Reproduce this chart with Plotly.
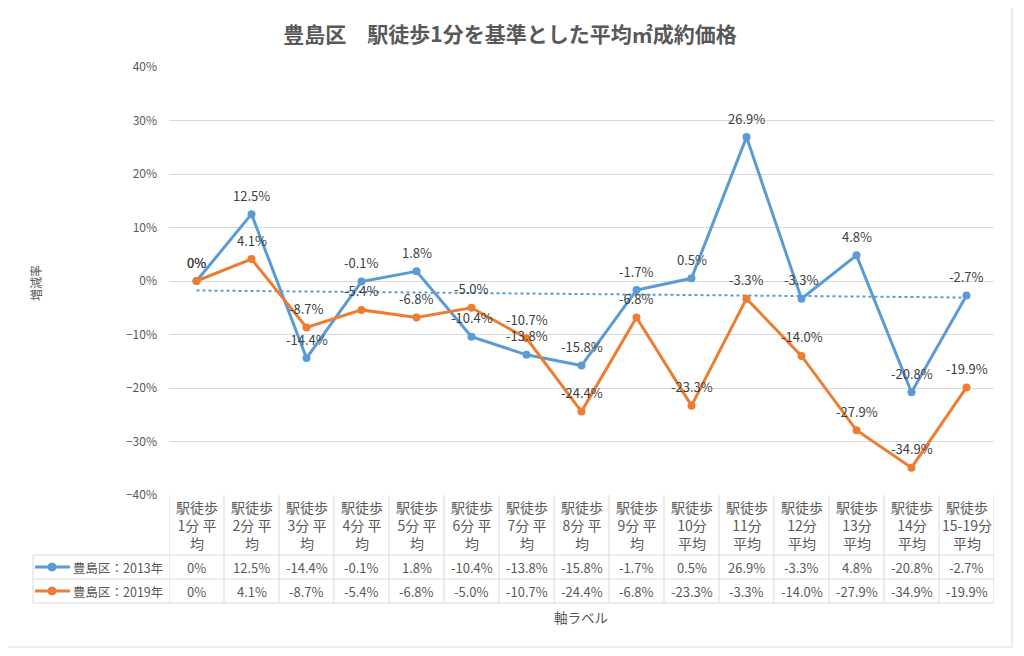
import numpy as np
import plotly.graph_objects as go

# ---------------- data ----------------
categories = ["駅徒歩1分平均", "駅徒歩2分平均", "駅徒歩3分平均", "駅徒歩4分平均", "駅徒歩5分平均",
              "駅徒歩6分平均", "駅徒歩7分平均", "駅徒歩8分平均", "駅徒歩9分平均", "駅徒歩10分平均",
              "駅徒歩11分平均", "駅徒歩12分平均", "駅徒歩13分平均", "駅徒歩14分平均", "駅徒歩15-19分平均"]
header_labels = ["駅徒歩<br>1分 平<br>均", "駅徒歩<br>2分 平<br>均", "駅徒歩<br>3分 平<br>均",
                 "駅徒歩<br>4分 平<br>均", "駅徒歩<br>5分 平<br>均", "駅徒歩<br>6分 平<br>均",
                 "駅徒歩<br>7分 平<br>均", "駅徒歩<br>8分 平<br>均", "駅徒歩<br>9分 平<br>均",
                 "駅徒歩<br>10分<br>平均", "駅徒歩<br>11分<br>平均", "駅徒歩<br>12分<br>平均",
                 "駅徒歩<br>13分<br>平均", "駅徒歩<br>14分<br>平均", "駅徒歩<br>15-19分<br>平均"]
series_names = ["豊島区：2013年", "豊島区：2019年"]
values_2013 = [0, 12.5, -14.4, -0.1, 1.8, -10.4, -13.8, -15.8, -1.7, 0.5, 26.9, -3.3, 4.8, -20.8, -2.7]
values_2019 = [0, 4.1, -8.7, -5.4, -6.8, -5.0, -10.7, -24.4, -6.8, -23.3, -3.3, -14.0, -27.9, -34.9, -19.9]
series_values = [values_2013, values_2019]
series_colors = ["#5B9BD5", "#ED7D31"]

title_text = "豊島区　駅徒歩1分を基準とした平均㎡成約価格"
y_title = "増減率"
x_title = "軸ラベル"

FONT = "Noto Sans CJK JP"
TXT = "#595959"
GRID = "#D9D9D9"

# page body has an 8px margin -> work in window pixels and subtract it
OFF = 8
W, H = 1024 - OFF, 656 - OFF
PL, PR, PT, PB = 169, 994, 67, 495  # plot area in window pixels


def px_x(px):
    return (px - PL) / (PR - PL)


def px_y(py):
    return (PB - py) / (PB - PT)


def fmt(v):
    return "0%" if v == 0 else f"{v:.1f}%"


x_idx = list(range(len(categories)))

fig = go.Figure()

# trendline (linear fit of the 2013 series)
slope, icpt = np.polyfit(x_idx, values_2013, 1)
trend = [icpt + slope * i for i in x_idx]
fig.add_trace(go.Scatter(x=x_idx, y=trend, mode="lines",
                         line=dict(color=series_colors[0], width=2, dash="dot"),
                         showlegend=False, hoverinfo="skip"))

for name, vals, col in zip(series_names, series_values, series_colors):
    fig.add_trace(go.Scatter(x=x_idx, y=vals, mode="lines+markers", name=name,
                             line=dict(color=col, width=3),
                             marker=dict(color=col, size=8),
                             showlegend=False))

annotations = []
# data labels
for vals in series_values:
    for i, v in zip(x_idx, vals):
        annotations.append(dict(x=i, y=v, xref="x", yref="y", text=fmt(v), showarrow=False,
                                xanchor="center", yanchor="middle",
                                yshift=19, font=dict(family=FONT, size=13, color="#404040")))

# ----- data table under the plot -----
shapes = []
line_style = dict(color=GRID, width=1)
hdr_top, hdr_bot, r1_bot, r2_bot = 495, 555, 579, 603
leg_left = 33
for k in range(len(categories) + 1):
    shapes.append(dict(type="line", xref="x", yref="paper", x0=k - 0.5, x1=k - 0.5,
                       y0=px_y(hdr_top), y1=px_y(r2_bot), line=line_style))
for py in (hdr_bot, r1_bot, r2_bot):
    shapes.append(dict(type="line", xref="paper", yref="paper", x0=px_x(leg_left), x1=1,
                       y0=px_y(py), y1=px_y(py), line=line_style))
shapes.append(dict(type="line", xref="paper", yref="paper", x0=px_x(leg_left), x1=px_x(leg_left),
                   y0=px_y(hdr_bot), y1=px_y(r2_bot), line=line_style))

for i, lab in zip(x_idx, header_labels):
    annotations.append(dict(x=i, y=px_y((hdr_top + hdr_bot) / 2), xref="x", yref="paper",
                            text=lab, showarrow=False, xanchor="center", yanchor="middle",
                            font=dict(family=FONT, size=14, color=TXT)))
rows = [((hdr_bot + r1_bot) / 2), ((r1_bot + r2_bot) / 2)]
for row_y, name, vals, col in zip(rows, series_names, series_values, series_colors):
    for i, v in zip(x_idx, vals):
        annotations.append(dict(x=i, y=px_y(row_y), xref="x", yref="paper", text=fmt(v),
                                showarrow=False, xanchor="center", yanchor="middle",
                                font=dict(family=FONT, size=13, color=TXT)))
    shapes.append(dict(type="line", xref="paper", yref="paper", x0=px_x(35), x1=px_x(70),
                       y0=px_y(row_y), y1=px_y(row_y), line=dict(color=col, width=3)))
    shapes.append(dict(type="circle", xref="paper", yref="paper", xsizemode="pixel",
                       ysizemode="pixel", xanchor=px_x(52), yanchor=px_y(row_y),
                       x0=-4, x1=4, y0=-4, y1=4, fillcolor=col, line=dict(color=col, width=1)))
    annotations.append(dict(x=px_x(71), y=px_y(row_y), xref="paper", yref="paper", text=name,
                            showarrow=False, xanchor="left", yanchor="middle",
                            font=dict(family=FONT, size=12.5, color=TXT)))

annotations.append(dict(x=px_x(581), y=px_y(617), xref="paper", yref="paper", text=x_title,
                        showarrow=False, xanchor="center", yanchor="middle",
                        font=dict(family=FONT, size=13.5, color=TXT)))
annotations.append(dict(x=px_x(35), y=px_y(283), xref="paper", yref="paper", text=y_title,
                        showarrow=False, textangle=-90, xanchor="center", yanchor="middle",
                        font=dict(family=FONT, size=12, color=TXT)))

shapes.append(dict(type="rect", xref="paper", yref="paper", x0=px_x(6), x1=px_x(1012),
                   y0=px_y(647), y1=px_y(6), line=dict(color=GRID, width=1), layer="below"))

fig.update_layout(
    width=W, height=H,
    margin=dict(l=PL - OFF, r=1024 - PR, t=PT - OFF, b=656 - PB, autoexpand=False),
    paper_bgcolor="white", plot_bgcolor="white",
    title=dict(text=f"<b>{title_text}</b>", x=(510 - OFF) / W, xanchor="center",
               y=1 - (35 - OFF) / H, yanchor="middle",
               font=dict(family=FONT, size=21, color=TXT)),
    xaxis=dict(range=[-0.5, len(categories) - 0.5], showticklabels=False, showgrid=False,
               zeroline=False, showline=False, fixedrange=True),
    yaxis=dict(range=[-40, 40], dtick=10, ticksuffix="%", showgrid=True, gridcolor=GRID,
               gridwidth=1, zeroline=True, zerolinecolor=GRID, zerolinewidth=1,
               showline=False, ticklabelstandoff=11,
               tickfont=dict(family=FONT, size=12, color=TXT), fixedrange=True),
    shapes=shapes, annotations=annotations, showlegend=False,
)

fig.write_html("out.html")
